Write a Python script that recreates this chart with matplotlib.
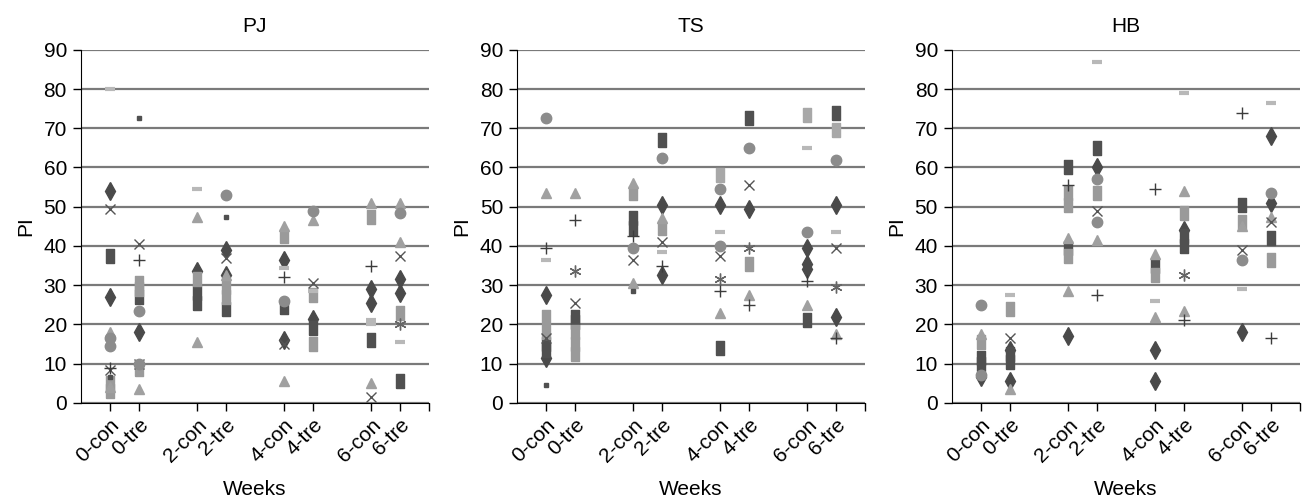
import numpy as np
import matplotlib.pyplot as plt

plt.rcParams['font.family'] = ['Liberation Sans', 'DejaVu Sans']

# 横轴类别
categories = ['0-con', '0-tre', '2-con', '2-tre', '4-con', '4-tre', '6-con', '6-tre']
xpos = [1, 2, 4, 5, 7, 8, 10, 11]

# 每个面板: 标记类型 -> 每个类别的PI值
pj = {
    'diamond': [[54, 27], [18], [33.5], [39, 32.5], [36.5, 16], [21.5], [29, 25.5], [31.5, 28]],
    'sq_dark': [[37.5], [27], [28, 25.5], [24], [24.5], [19], [16], [5.5]],
    'sq_mid': [[5, 3], [30.5, 29, 8.7], [31.5], [29.5, 27], [42.5], [27.5, 15], [47.5], [23]],
    'sq_light': [[], [], [], [], [], [], [], []],
    'tri': [[18, 4], [3.5], [47.5, 15.5], [32.5], [45, 5.5], [46.5], [51, 5], [51, 41]],
    'x': [[49.5, 8.5], [40.5, 10], [], [37], [15], [30.5], [1.5], [37.5]],
    'ast': [[], [], [], [], [], [], [], [20]],
    'circle': [[16.5, 14.5], [23.5, 10], [], [53], [26], [49], [], [48.5]],
    'plus': [[9], [36.5], [], [], [32], [], [35], []],
    'dash': [[80], [], [54.5], [], [34.5], [28.5], [21, 20], [15.5]],
    'dot': [[6.5], [72.5], [], [47.5], [], [], [], []],
}
ts = {
    'diamond': [[27.5, 11.5], [], [], [50.5, 32.5], [50.5], [49.5], [39.5, 35.5, 34], [50.5, 22]],
    'sq_dark': [[15, 13.5], [22, 20.5], [47, 44.5], [67], [14], [72.5], [21], [74]],
    'sq_mid': [[22, 18], [18, 15, 12.5], [53.5], [44.5], [], [35.5], [], []],
    'sq_light': [[], [], [], [], [58], [], [73.5], [69.5]],
    'tri': [[53.5], [53.5], [56, 30.5], [47], [23], [27.5], [25], [17.5]],
    'x': [[16.5], [25.5], [36.5], [41], [37.5], [55.5], [], [39.5]],
    'ast': [[], [33.5], [], [], [31.5], [39.5], [], [29.5]],
    'circle': [[72.5], [], [39.5], [62.5], [54.5, 40], [65], [43.5], [62]],
    'plus': [[39.5], [46.5], [42.5], [35], [28.5], [25], [31], [16.5]],
    'dash': [[36.5], [], [], [38.5], [43.5], [], [65], [43.5]],
    'dot': [[4.5], [], [28.5], [], [], [], [], []],
}
hb = {
    'diamond': [[6.5], [13.5, 5.5], [17], [60], [13.5, 5.5], [44], [18], [68, 51]],
    'sq_dark': [[11.5, 10], [10.5, 12.5], [60, 39.5], [65], [35], [40, 42.5], [50.5], [42]],
    'sq_mid': [[15.5], [24], [53.5, 50.5, 37.5], [53.5], [32.5], [48.5], [46], [36.5]],
    'sq_light': [[], [], [], [], [], [], [], []],
    'tri': [[17.5], [3.5], [42, 28.5], [41.5], [38, 22], [54, 23.5], [45], [47.5]],
    'x': [[], [16.5], [], [49], [], [], [39], [46]],
    'ast': [[], [], [], [], [], [32.5], [], []],
    'circle': [[25, 7], [], [], [57, 46], [], [], [36.5], [53.5]],
    'plus': [[], [], [55.5], [27.5], [54.5], [21], [74], [16.5]],
    'dash': [[], [27.5], [], [87], [26], [79], [29], [76.5]],
    'dot': [[], [], [], [], [], [], [], []],
}
panels = [('PJ', pj), ('TS', ts), ('HB', hb)]

# 长方形标记（Excel的方块看起来偏高）
rect = [(-0.32, -0.5), (0.32, -0.5), (0.32, 0.5), (-0.32, 0.5), (-0.32, -0.5)]

styles = {
    'diamond': dict(marker='d', color='#4a4a4a', ms=9),
    'sq_dark': dict(marker=rect, color='#505050', ms=10),
    'sq_mid': dict(marker=rect, color='#9a9a9a', ms=10),
    'sq_light': dict(marker=rect, color='#a8a8a8', ms=10),
    'tri': dict(marker='^', color='#a0a0a0', ms=7.5),
    'x': dict(marker='x', color='#555555', ms=7.5, mew=1),
    'ast': dict(marker=(6, 2, 0), color='#666666', ms=8.5, mew=1),
    'circle': dict(marker='o', color='#8c8c8c', ms=7.5),
    'plus': dict(marker='+', color='#3c3c3c', ms=9, mew=1),
    'dash': dict(marker='_', color='#b8b8b8', ms=7, mew=3),
    'dot': dict(marker='s', color='#505050', ms=3.5),
}

fig = plt.figure(figsize=(13.04, 4.98), dpi=100)
lefts = [0.062, 0.3965, 0.730]

for (name, data), left in zip(panels, lefts):
    ax = fig.add_axes([left, 0.191, 0.2669, 0.709])
    ax.set_axisbelow(True)
    for kind, vals in data.items():
        st = dict(styles[kind])
        for i, v in enumerate(vals):
            if not v:
                continue
            ax.plot([xpos[i]] * len(v), v, linestyle='none', **st)
    ax.set_xlim(0, 12)
    ax.set_ylim(0, 90)
    ax.set_yticks(np.arange(0, 91, 10))
    ax.set_xticks(xpos + [12])
    ax.set_xticklabels(categories + [''], rotation=45, ha='right',
                       rotation_mode='anchor', fontsize=15)
    ax.tick_params(axis='y', labelsize=15, length=6, width=1, pad=4)
    ax.tick_params(axis='x', length=6, width=1, pad=3)
    ax.yaxis.grid(True, color='#7a7a7a', linewidth=1.6)
    ax.spines['top'].set_visible(False)
    ax.spines['right'].set_visible(False)
    ax.set_title(name, fontsize=15, pad=13)
    ax.set_ylabel('PI', fontsize=15, labelpad=6)
    ax.set_xlabel('Weeks', fontsize=15, labelpad=10)

plt.savefig('out.png', dpi=100)
